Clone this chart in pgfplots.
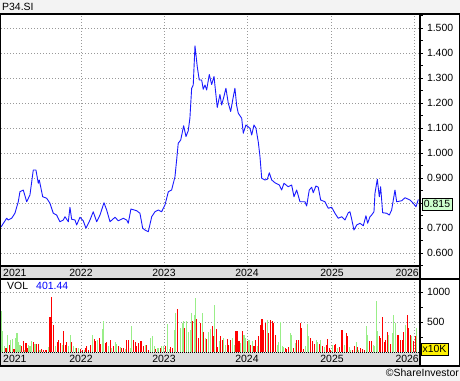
\documentclass[border=0pt]{standalone}
\usepackage{pgfplots}
\pgfplotsset{compat=1.18}
\usepackage{pgfplotstable}
\usepackage{fontspec}
\setmainfont{Liberation Sans}
\definecolor{bgg}{HTML}{F3F3F3}
\definecolor{band}{HTML}{DDDDDD}
\definecolor{gridc}{HTML}{999999}
\definecolor{lineblue}{HTML}{1A1AFF}
\definecolor{volred}{HTML}{FF0000}
\definecolor{volgreen}{HTML}{99EE88}
\definecolor{lastbox}{HTML}{CCFFCC}

\pgfplotstableread{
t p
2021.040 0.705
2021.108 0.740
2021.127 0.733
2021.168 0.740
2021.207 0.760
2021.247 0.806
2021.267 0.846
2021.307 0.853
2021.348 0.806
2021.387 0.833
2021.427 0.933
2021.459 0.933
2021.487 0.880
2021.499 0.893
2021.540 0.826
2021.588 0.820
2021.627 0.800
2021.667 0.760
2021.707 0.753
2021.747 0.726
2021.787 0.733
2021.807 0.746
2021.847 0.726
2021.867 0.784
2021.887 0.736
2021.927 0.733
2021.947 0.713
2021.987 0.744
2022.026 0.730
2022.059 0.700
2022.107 0.733
2022.146 0.766
2022.187 0.726
2022.227 0.753
2022.275 0.802
2022.307 0.773
2022.347 0.726
2022.407 0.744
2022.446 0.730
2022.506 0.740
2022.547 0.733
2022.566 0.720
2022.598 0.777
2022.667 0.770
2022.706 0.760
2022.739 0.700
2022.766 0.693
2022.806 0.686
2022.847 0.746
2022.886 0.766
2022.926 0.773
2022.966 0.766
2023.006 0.793
2023.046 0.846
2023.086 0.853
2023.126 0.906
2023.146 0.973
2023.165 1.040
2023.195 1.053
2023.230 1.110
2023.258 1.067
2023.285 1.090
2023.305 1.140
2023.326 1.260
2023.345 1.273
2023.366 1.430
2023.393 1.347
2023.417 1.293
2023.446 1.293
2023.465 1.256
2023.486 1.273
2023.506 1.253
2023.537 1.315
2023.566 1.275
2023.594 1.307
2023.633 1.183
2023.665 1.235
2023.686 1.193
2023.713 1.227
2023.737 1.260
2023.765 1.200
2023.794 1.167
2023.818 1.213
2023.845 1.260
2023.866 1.190
2023.885 1.160
2023.926 1.140
2023.945 1.080
2023.977 1.113
2024.025 1.100
2024.046 1.073
2024.073 1.113
2024.097 1.100
2024.125 1.045
2024.145 0.987
2024.166 0.900
2024.205 0.893
2024.233 0.896
2024.257 0.922
2024.286 0.893
2024.325 0.882
2024.377 0.873
2024.405 0.853
2024.433 0.880
2024.484 0.866
2024.525 0.873
2024.553 0.826
2024.585 0.853
2024.625 0.806
2024.685 0.806
2024.705 0.789
2024.736 0.853
2024.765 0.864
2024.784 0.842
2024.816 0.869
2024.844 0.864
2024.873 0.813
2024.924 0.806
2024.964 0.780
2025.005 0.784
2025.044 0.760
2025.084 0.740
2025.125 0.746
2025.164 0.733
2025.204 0.762
2025.224 0.766
2025.245 0.736
2025.272 0.693
2025.305 0.713
2025.344 0.720
2025.384 0.710
2025.416 0.750
2025.436 0.720
2025.464 0.746
2025.484 0.753
2025.512 0.766
2025.524 0.840
2025.552 0.896
2025.576 0.826
2025.592 0.866
2025.616 0.762
2025.664 0.760
2025.696 0.753
2025.724 0.773
2025.764 0.853
2025.784 0.806
2025.844 0.810
2025.884 0.822
2025.944 0.813
2025.983 0.800
2026.016 0.786
2026.044 0.815
}\price

\pgfplotstableread{
t v
2021.100 72
2021.140 122
2021.196 50
2021.288 106
2021.308 178
2021.340 150
2021.356 67
2021.428 161
2021.468 139
2021.488 139
2021.528 56
2021.548 39
2021.572 39
2021.588 39
2021.628 594
2021.648 928
2021.668 456
2021.716 161
2021.732 194
2021.756 150
2021.788 344
2021.808 122
2021.828 161
2021.888 161
2021.948 67
2021.992 50
2022.012 39
2022.052 67
2022.068 94
2022.088 39
2022.108 122
2022.156 217
2022.176 178
2022.216 233
2022.236 139
2022.292 150
2022.308 161
2022.348 194
2022.388 94
2022.448 106
2022.488 67
2022.508 67
2022.548 206
2022.564 206
2022.628 194
2022.648 161
2022.668 94
2022.692 150
2022.708 178
2022.728 178
2022.748 94
2022.788 122
2022.808 39
2022.896 50
2022.948 67
2023.008 94
2023.076 83
2023.096 67
2023.160 717
2023.244 400
2023.340 511
2023.388 550
2023.412 233
2023.428 483
2023.468 328
2023.508 217
2023.572 428
2023.588 272
2023.620 383
2023.636 83
2023.672 261
2023.692 206
2023.752 222
2023.772 122
2023.790 206
2023.858 344
2023.874 344
2023.894 178
2023.938 344
2023.994 178
2024.034 122
2024.074 94
2024.094 206
2024.130 261
2024.150 456
2024.170 556
2024.190 372
2024.210 483
2024.250 317
2024.270 539
2024.290 511
2024.310 483
2024.330 289
2024.446 67
2024.466 50
2024.486 83
2024.546 67
2024.586 206
2024.610 194
2024.630 483
2024.646 400
2024.670 50
2024.754 233
2024.774 178
2024.794 139
2024.854 139
2024.894 94
2024.938 122
2024.954 217
2024.974 67
2024.994 39
2025.034 122
2025.054 139
2025.094 83
2025.118 372
2025.138 372
2025.178 317
2025.194 261
2025.258 39
2025.274 94
2025.314 83
2025.354 67
2025.374 50
2025.394 39
2025.458 178
2025.478 178
2025.574 261
2025.594 233
2025.618 578
2025.634 161
2025.654 194
2025.674 333
2025.710 139
2025.790 289
2025.810 289
2025.830 194
2025.850 206
2025.870 328
2025.910 611
2025.926 400
2025.946 289
2025.986 178
2026.006 261
}\volred

\pgfplotstableread{
t v
2021.048 678
2021.060 356
2021.084 106
2021.116 289
2021.156 206
2021.176 217
2021.212 233
2021.232 317
2021.248 161
2021.268 122
2021.324 39
2021.372 122
2021.388 106
2021.408 178
2021.448 139
2021.508 39
2021.608 83
2021.692 94
2021.772 122
2021.848 106
2021.868 289
2021.908 94
2021.928 67
2021.972 67
2022.036 39
2022.132 289
2022.196 206
2022.256 383
2022.272 522
2022.328 94
2022.368 67
2022.408 161
2022.428 139
2022.468 83
2022.528 50
2022.588 67
2022.608 439
2022.772 122
2022.836 233
2022.860 261
2022.876 94
2022.916 67
2022.932 67
2022.968 94
2022.988 94
2023.036 472
2023.060 50
2023.116 372
2023.136 650
2023.188 394
2023.212 483
2023.228 511
2023.268 511
2023.292 328
2023.308 372
2023.324 650
2023.356 622
2023.372 900
2023.452 650
2023.488 233
2023.532 339
2023.556 383
2023.604 789
2023.656 178
2023.708 233
2023.732 122
2023.818 233
2023.838 122
2023.914 150
2023.954 289
2023.974 233
2024.014 206
2024.054 178
2024.114 106
2024.230 539
2024.350 122
2024.370 167
2024.386 500
2024.410 106
2024.426 83
2024.506 317
2024.522 289
2024.566 150
2024.694 94
2024.714 472
2024.730 261
2024.818 194
2024.834 161
2024.874 206
2024.914 83
2025.014 122
2025.074 67
2025.158 122
2025.218 83
2025.234 39
2025.298 161
2025.330 39
2025.418 428
2025.434 289
2025.506 122
2025.522 106
2025.538 855
2025.554 356
2025.690 278
2025.734 317
2025.750 622
2025.770 483
2025.890 456
2025.966 261
2026.026 401.44
}\volgreen

\begin{document}
\begin{tikzpicture}
\path[use as bounding box] (0bp,0bp) rectangle (460bp,381bp);
\fill[bgg] (0bp,0bp) rectangle (460bp,381bp);
\fill[white] (0bp,15bp) rectangle (460bp,367bp);
\fill[band] (0bp,102bp) rectangle (420bp,115bp);
\fill[band] (0bp,15bp) rectangle (420bp,29bp);

\pgfplotsset{
  every axis/.append style={
    scale only axis, width=419bp, anchor=south west,
    xmin=2021.04, xmax=2026.064,
    xtick={2022,2023,2024,2025,2026}, xticklabels={},
    xtick style={draw=none},
    axis line style={draw=none},
    ytick pos=right, yticklabel pos=right,
    tick align=outside,
    major tick length=3bp, minor tick length=3bp,
    every tick/.style={black, line width=0.8bp},
    grid=major,
    grid style={gridc, line width=0.8bp, dash pattern=on 1bp off 2bp},
    /pgf/number format/assume math mode=true,
    tick label style={font=\fontsize{10.5}{12}\selectfont, black},
    yticklabel style={anchor=west, xshift=0.5bp},
    clip=true,
  }
}

\begin{axis}[
  at={(1bp,115bp)}, height=252bp,
  ymin=0.549, ymax=1.557,
  ytick={0.6,0.7,0.8,0.9,1.0,1.1,1.2,1.3,1.4,1.5},
  yticklabels={0.600,0.700,,0.900,1.000,1.100,1.200,1.300,1.400,1.500},
  minor ytick={0.55,0.65,0.75,0.85,0.95,1.05,1.15,1.25,1.35,1.45,1.55},
]
\addplot[lineblue, line width=0.9bp, line join=round] table[x=t, y=p] {\price};
\end{axis}

\begin{axis}[
  at={(1bp,29bp)}, height=73bp,
  ymin=0, ymax=1222,
  ytick={500,1000},
  yticklabels={500,1000},
  minor ytick={250,750},
]
\addplot[ycomb, volred, line width=1.1bp, mark=none] table[x=t, y=v] {\volred};
\addplot[ycomb, volgreen, line width=1.1bp, mark=none] table[x=t, y=v] {\volgreen};
\end{axis}

% frame lines
\draw[black, line width=1.2bp] (0bp,367bp) -- (460bp,367bp);
\draw[black, line width=1.2bp] (0bp,15bp) -- (460bp,15bp);
\draw[black, line width=1.2bp] (0.6bp,15bp) -- (0.6bp,367bp);
\draw[black, line width=1.2bp] (459.4bp,15bp) -- (459.4bp,367bp);
\draw[black, line width=1.2bp] (420bp,15bp) -- (420bp,367bp);
\draw[black, line width=1.2bp] (0bp,115bp) -- (420bp,115bp);
\draw[black, line width=1.2bp] (0bp,102bp) -- (460bp,102bp);
\draw[black, line width=0.9bp, dash pattern=on 1bp off 1bp] (0bp,29bp) -- (420bp,29bp);

\begin{scope}[every node/.style={font=\fontsize{10.5}{12}\selectfont, inner sep=0pt}]
\node[anchor=west] at (2bp,374bp) {P34.SI};
% date band labels
\node[anchor=west] at (3bp,108.5bp) {2021};
\node at (81bp,108.5bp) {2022};
\node at (164bp,108.5bp) {2023};
\node at (247bp,108.5bp) {2024};
\node at (332bp,108.5bp) {2025};
\node[anchor=east] at (419bp,108.5bp) {2026};
\node[anchor=west] at (3bp,22bp) {2021};
\node at (81bp,22bp) {2022};
\node at (164bp,22bp) {2023};
\node at (247bp,22bp) {2024};
\node at (332bp,22bp) {2025};
\node[anchor=east] at (419bp,22bp) {2026};
% volume legend
\node[anchor=west] at (7bp,95bp) {VOL};
\node[anchor=west, text=blue] at (36bp,95bp) {401.44};
% last price box
\node[draw=black, line width=0.8bp, fill=lastbox, minimum width=30bp, minimum height=12bp, inner xsep=1bp] at (437bp,177bp) {0.815};
% x10K box
\node[draw=black, line width=0.8bp, fill=yellow, minimum width=27bp, minimum height=12bp, inner xsep=1bp] at (434.5bp,32bp) {x10K};
% copyright
\node[anchor=east] at (459bp,8bp) {\textcopyright ShareInvestor};
\end{scope}
\end{tikzpicture}
\end{document}
